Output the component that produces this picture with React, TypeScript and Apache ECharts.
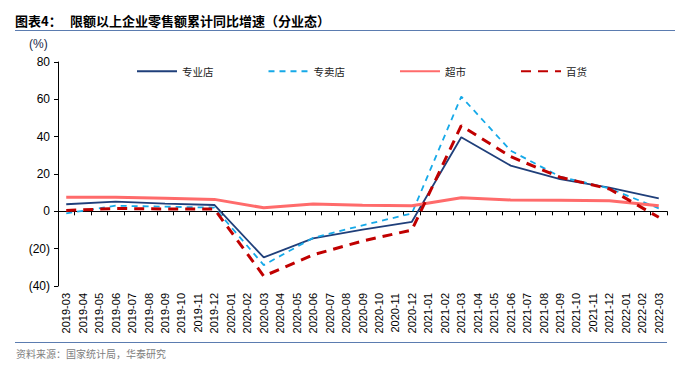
import React, { useEffect, useRef } from "react";
import * as echarts from "echarts";

const categories: string[] = [
  "2019-03", "2019-04", "2019-05", "2019-06", "2019-07", "2019-08", "2019-09", "2019-10", "2019-11", "2019-12",
  "2020-01", "2020-02", "2020-03", "2020-04", "2020-05", "2020-06", "2020-07", "2020-08", "2020-09", "2020-10",
  "2020-11", "2020-12", "2021-01", "2021-02", "2021-03", "2021-04", "2021-05", "2021-06", "2021-07", "2021-08",
  "2021-09", "2021-10", "2021-11", "2021-12", "2022-01", "2022-02", "2022-03",
];

// quarterly observations (cumulative YoY, %)
const quarters: string[] = [
  "2019-03", "2019-06", "2019-09", "2019-12", "2020-03", "2020-06", "2020-09", "2020-12",
  "2021-03", "2021-06", "2021-09", "2021-12", "2022-03",
];
const zhuanyedian: number[] = [3.8, 5.2, 4.1, 3.4, -24.7, -14.5, -9.8, -5.6, 39.7, 24.5, 17.3, 12.7, 7.0];
const zhuanmaidian: number[] = [-1.1, 3.0, 2.5, 2.0, -28.8, -14.2, -7.5, -1.1, 61.5, 32.5, 18.6, 12.3, 1.6];
const chaoshi: number[] = [7.5, 7.5, 7.0, 6.4, 1.9, 3.9, 3.3, 3.0, 7.3, 6.1, 6.0, 5.7, 3.0];
const baihuo: number[] = [0.5, 1.5, 1.3, 1.2, -34.7, -23.3, -15.9, -10.0, 45.9, 29.3, 18.3, 12.0, -3.2];

const yTicks = { min: -40, max: 80, interval: 20 };

function toSeries(vals: number[]): (number | null)[] {
  return categories.map((c) => {
    const i = quarters.indexOf(c);
    return i >= 0 ? vals[i] : null;
  });
}

const LATIN = "'Liberation Sans', Arial, sans-serif";
const CJK = "'Noto Sans CJK SC', sans-serif";

export default function App() {
  const ref = useRef<HTMLDivElement>(null);
  useEffect(() => {
    if (!ref.current) return;
    const chart = echarts.init(ref.current, undefined, { renderer: "svg" });
    const mk = (name: string, vals: number[], color: string, width: number, type: any) => ({
      name,
      type: "line",
      xAxisIndex: 0,
      data: toSeries(vals),
      connectNulls: true,
      showSymbol: false,
      symbol: "none",
      lineStyle: { color, width, type },
      itemStyle: { color },
    });
    chart.setOption({
      animation: false,
      grid: { left: 58, right: 23, top: 62, bottom: 99, containLabel: false },
      legend: {
        left: 131,
        top: 61,
        itemWidth: 40,
        itemHeight: 12,
        itemGap: 54,
        itemStyle: { opacity: 0, borderWidth: 0 },
        textStyle: { fontFamily: CJK, fontSize: 10.5, color: "#222" },
        data: ["专业店", "专卖店", "超市", "百货"],
      },
      xAxis: [
        {
          type: "category",
          data: categories,
          boundaryGap: true,
          position: "bottom",
          axisLine: { onZero: true, lineStyle: { color: "#000", width: 1 } },
          axisTick: { show: true, interval: 0, length: 4, lineStyle: { color: "#000" } },
          axisLabel: { show: false },
          splitLine: { show: false },
        },
        {
          type: "category",
          data: categories,
          boundaryGap: true,
          position: "bottom",
          axisLine: { show: false, onZero: false },
          axisTick: { show: false },
          axisLabel: {
            interval: 0,
            rotate: 90,
            margin: 7,
            fontSize: 11,
            fontFamily: LATIN,
            color: "#000",
          },
          splitLine: { show: false },
        },
      ],
      yAxis: {
        type: "value",
        min: yTicks.min,
        max: yTicks.max,
        interval: yTicks.interval,
        axisLine: { show: true, lineStyle: { color: "#000", width: 1 } },
        axisTick: { show: true, length: 4, lineStyle: { color: "#000" } },
        splitLine: { show: false },
        axisLabel: {
          fontSize: 12,
          fontFamily: LATIN,
          color: "#000",
          margin: 8,
          formatter: (v: number) => (v < 0 ? `(${-v})` : `${v}`),
        },
      },
      series: [
        mk("专业店", zhuanyedian, "#1F3F7A", 1.8, "solid"),
        mk("专卖店", zhuanmaidian, "#16A9E8", 1.8, [6, 5]),
        mk("超市", chaoshi, "#FF6B6B", 3, "solid"),
        mk("百货", baihuo, "#C00000", 3, [10, 7]),
      ],
      graphic: [
        {
          type: "text",
          left: 15,
          top: 14,
          style: { text: "图表4：", fontFamily: CJK, fontSize: 13, fontWeight: "bold", fill: "#000" },
        },
        {
          type: "text",
          left: 70,
          top: 14,
          style: {
            text: "限额以上企业零售额累计同比增速（分业态）",
            fontFamily: CJK,
            fontSize: 13,
            fontWeight: "bold",
            fill: "#000",
          },
        },
        {
          type: "line",
          shape: { x1: 15, y1: 30.5, x2: 675, y2: 30.5 },
          style: { stroke: "#5B7CB0", lineWidth: 1 },
        },
        {
          type: "text",
          left: 29,
          top: 38,
          style: { text: "(%)", fontFamily: LATIN, fontSize: 12, fill: "#1a2a4a" },
        },
        {
          type: "line",
          shape: { x1: 15, y1: 342.5, x2: 667, y2: 342.5 },
          style: { stroke: "#5B7CB0", lineWidth: 1 },
        },
        {
          type: "text",
          left: 16,
          top: 348,
          style: { text: "资料来源：国家统计局，华泰研究", fontFamily: CJK, fontSize: 10, fill: "#808080" },
        },
      ],
    });
    return () => chart.dispose();
  }, []);
  return <div ref={ref} style={{ width: 690, height: 385, position: "absolute", left: 0, top: 0 }} />;
}
